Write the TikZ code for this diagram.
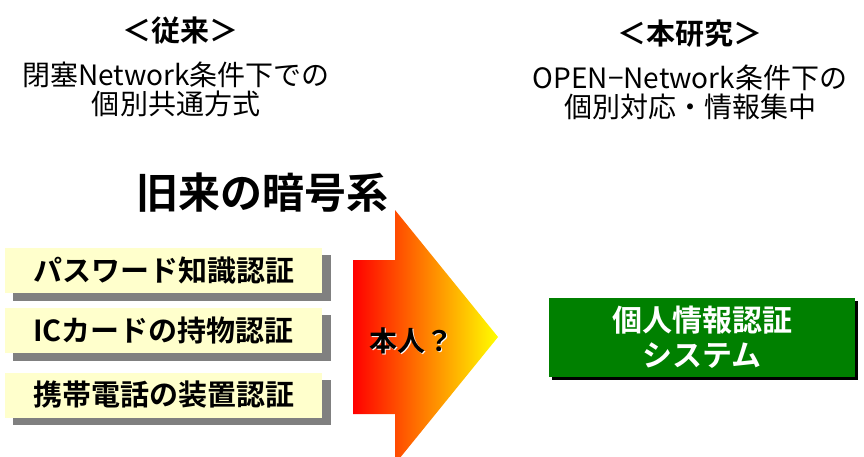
\documentclass[tikz,border=0pt]{standalone}
\usepackage{fontspec}
\newfontfamily\jp{Noto Sans CJK JP}
\newfontfamily\jpb{Noto Sans CJK JP Bold}
\definecolor{boxyellow}{RGB}{255,255,204}
\definecolor{shadowgray}{RGB}{128,128,128}
\definecolor{sysgreen}{RGB}{0,128,0}
\tikzset{
  head/.style={font=\jpb\fontsize{29}{30}\selectfont, inner sep=0pt},
  sub/.style={font=\jp\fontsize{28}{29}\selectfont, align=center, inner sep=0pt},
  ybox/.style={fill=boxyellow, draw=none, minimum width=317pt, minimum height=45pt, inner sep=0pt, font=\jpb\fontsize{29}{30}\selectfont},
  yshadow/.style={fill=shadowgray},
}
\begin{document}
\begin{tikzpicture}[x=1pt,y=-1pt]
\useasboundingbox (0,0) rectangle (864,457);
% headers
\node[head] (h1) at (180,31) {＜従来＞};
\node[sub] (s1) at (176,89) {閉塞Network条件下での\\個別共通方式};
\node[head] (h2) at (690,34) {＜本研究＞};
\node[sub] (s2) at (690,92) {OPEN−Network条件下の\\個別対応・情報集中};
\node[font=\jpb\fontsize{42}{44}\selectfont, inner sep=0pt] (old) at (262,193) {旧来の暗号系};
% yellow boxes with shadows
\foreach \y/\t/\n in {270.5/パスワード知識認証/b1, 330.5/ICカードの持物認証/b2, 395/携帯電話の装置認証/b3}{
  \fill[yshadow] (13,\y-15.5) rectangle (331,\y+30);
  \node[ybox] (\n) at (163.5,\y) {\t};
}
% arrow
\shade[left color=red, right color=yellow]
  (353,260) -- (395,260) -- (395,210) -- (498,337) -- (395,464) -- (395,414) -- (353,414) -- cycle;
\node[font=\jpb\fontsize{28}{30}\selectfont, text=white, inner sep=0pt] (qs) at (412,342) {本人？};
\node[font=\jpb\fontsize{28}{30}\selectfont, inner sep=0pt] (q) at (411,341) {本人？};
% green box
\fill[black] (552,301) rectangle (858,380);
\node[fill=sysgreen, minimum width=306pt, minimum height=79pt, inner sep=0pt, text=white, align=center, font=\jpb\fontsize{30}{35}\selectfont] (sys) at (702,337.5) {個人情報認証\\システム};
\end{tikzpicture}
\end{document}
